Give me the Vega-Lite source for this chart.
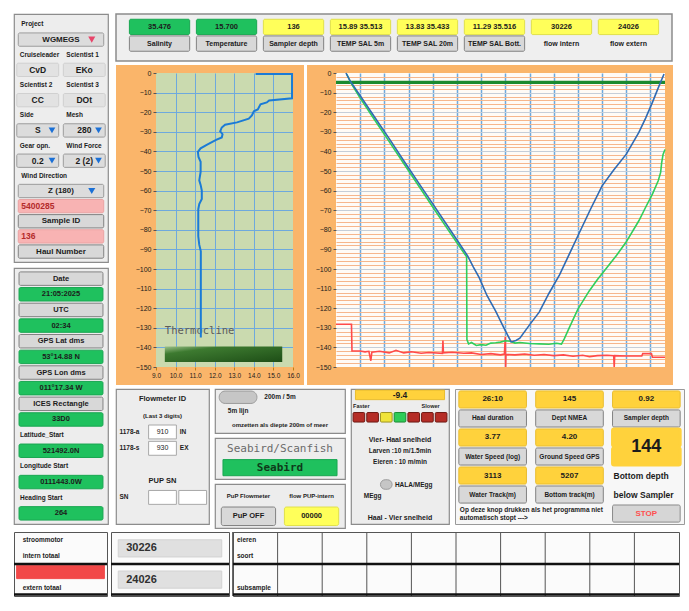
{
"$schema": "https://vega.github.io/schema/vega-lite/v6.json",
"background": "#ffffff",
"padding": {"left": 12, "top": 13, "right": 2, "bottom": 2},
"config": {"view": {"stroke": null}, "font": "Liberation Sans", "axis": {"labelFont": "Liberation Sans", "labelFontSize": 7.5, "labelColor": "#1a1a1a"}},
"datasets": {
 "left1": [
  {"r":"r01","c":"all","k":"lab","t":"Project"},
  {"r":"r02","c":"all","k":"dropr","t":"WGMEGS"},
  {"r":"r03","c":"L","k":"lab","t":"Cruiseleader"},{"r":"r03","c":"R","k":"lab","t":"Scientist 1"},
  {"r":"r04","c":"L","k":"box","t":"CvD"},{"r":"r04","c":"R","k":"box","t":"EKo"},
  {"r":"r05","c":"L","k":"lab","t":"Scientist 2"},{"r":"r05","c":"R","k":"lab","t":"Scientist 3"},
  {"r":"r06","c":"L","k":"box","t":"CC"},{"r":"r06","c":"R","k":"box","t":"DOt"},
  {"r":"r07","c":"L","k":"lab","t":"Side"},{"r":"r07","c":"R","k":"lab","t":"Mesh"},
  {"r":"r08","c":"L","k":"drop","t":"S"},{"r":"r08","c":"R","k":"drop","t":"280"},
  {"r":"r09","c":"L","k":"lab","t":"Gear opn."},{"r":"r09","c":"R","k":"lab","t":"Wind Force"},
  {"r":"r10","c":"L","k":"drop","t":"0.2"},{"r":"r10","c":"R","k":"drop","t":"2 (2)"},
  {"r":"r11","c":"all","k":"lab","t":"Wind Direction"},
  {"r":"r12","c":"all","k":"drop","t":"Z (180)"},
  {"r":"r13","c":"all","k":"pink","t":"5400285"},
  {"r":"r14","c":"all","k":"btn","t":"Sample ID"},
  {"r":"r15","c":"all","k":"pink","t":"136"},
  {"r":"r16","c":"all","k":"btn","t":"Haul Number"}
 ],
 "left2": [
  {"r":"s01","c":"all","k":"btn","t":"Date"},
  {"r":"s02","c":"all","k":"grn","t":"21:05:2025"},
  {"r":"s03","c":"all","k":"btn","t":"UTC"},
  {"r":"s04","c":"all","k":"grn","t":"02:34"},
  {"r":"s05","c":"all","k":"btn","t":"GPS Lat dms"},
  {"r":"s06","c":"all","k":"grn","t":"53°14.88 N"},
  {"r":"s07","c":"all","k":"btn","t":"GPS Lon dms"},
  {"r":"s08","c":"all","k":"grn","t":"011°17.34 W"},
  {"r":"s09","c":"all","k":"btn","t":"ICES Rectangle"},
  {"r":"s10","c":"all","k":"grn","t":"33D0"},
  {"r":"s11","c":"all","k":"lab","t":"Latitude_Start"},
  {"r":"s12","c":"all","k":"grn","t":"521492.0N"},
  {"r":"s13","c":"all","k":"lab","t":"Longitude Start"},
  {"r":"s14","c":"all","k":"grn","t":"0111443.0W"},
  {"r":"s15","c":"all","k":"lab","t":"Heading Start"},
  {"r":"s16","c":"all","k":"grn","t":"264"}
 ],
 "top": [
  {"r":"v","c":"Salinity","k":"grn","t":"35.476"},{"r":"l","c":"Salinity","k":"btn","t":"Salinity"},
  {"r":"v","c":"Temperature","k":"grn","t":"15.700"},{"r":"l","c":"Temperature","k":"btn","t":"Temperature"},
  {"r":"v","c":"Sampler depth","k":"yel","t":"136"},{"r":"l","c":"Sampler depth","k":"btn","t":"Sampler depth"},
  {"r":"v","c":"TEMP SAL 5m","k":"yel","t":"15.89 35.513"},{"r":"l","c":"TEMP SAL 5m","k":"btn","t":"TEMP SAL 5m"},
  {"r":"v","c":"TEMP SAL 20m","k":"yel","t":"13.83 35.433"},{"r":"l","c":"TEMP SAL 20m","k":"btn","t":"TEMP SAL 20m"},
  {"r":"v","c":"TEMP SAL Bott.","k":"yel","t":"11.29 35.516"},{"r":"l","c":"TEMP SAL Bott.","k":"btn","t":"TEMP SAL Bott."},
  {"r":"v","c":"flow intern","k":"yel","t":"30226"},{"r":"l","c":"flow intern","k":"tc","t":"flow intern"},
  {"r":"v","c":"flow extern","k":"yel","t":"24026"},{"r":"l","c":"flow extern","k":"tc","t":"flow extern"}
 ],
 "flow": [
  {"r":"f1","c":"all","k":"tc","t":"Flowmeter ID"},
  {"r":"f2","c":"all","k":"sm","t":"(Last 3 digits)"},
  {"r":"f3","c":"a","k":"lab","t":"1178-a"},{"r":"f3","c":"b","k":"wht","t":"910"},{"r":"f3","c":"c","k":"lab","t":"IN"},
  {"r":"f4","c":"a","k":"lab","t":"1178-s"},{"r":"f4","c":"b","k":"wht","t":"930"},{"r":"f4","c":"c","k":"lab","t":"EX"},
  {"r":"f6","c":"all","k":"tc","t":"PUP SN"},
  {"r":"f7","c":"a","k":"lab","t":"SN"},{"r":"f7","c":"b","k":"wht","t":""},{"r":"f7","c":"c","k":"wht","t":""}
 ],
 "m1": [
  {"r":"m1","c":"a","k":"tog","t":""},{"r":"m1","c":"b","k":"sm","t":"200m / 5m"},
  {"r":"m2","c":"a","k":"sm","t":"5m lijn"},
  {"r":"m3","c":"all","k":"sm","t":"omzetten als diepte 200m of meer"}
 ],
 "m2": [
  {"r":"n1","c":"all","k":"mono","t":"Seabird/Scanfish"},
  {"r":"n2","c":"all","k":"grnm","t":"Seabird"}
 ],
 "m3": [
  {"r":"p1","c":"L","k":"sm","t":"PuP Flowmeter"},{"r":"p1","c":"R","k":"sm","t":"flow PUP-intern"},
  {"r":"p2","c":"L","k":"btn","t":"PuP OFF"},{"r":"p2","c":"R","k":"yel","t":"00000"}
 ],
 "speed": [
  {"r":"q01","c":"all","k":"amb","t":"-9.4"},
  {"r":"q02","c":"a","k":"lab","t":"Faster"},{"r":"q02","c":"f","k":"lab","t":"Slower"},
  {"r":"q03","c":"a","k":"ledr","t":""},{"r":"q03","c":"b","k":"ledr","t":""},{"r":"q03","c":"c","k":"ledy","t":""},{"r":"q03","c":"d","k":"ledg","t":""},{"r":"q03","c":"e","k":"ledr","t":""},{"r":"q03","c":"f","k":"ledr","t":""},{"r":"q03","c":"g","k":"ledr","t":""},
  {"r":"q05","c":"all","k":"tc","t":"Vier- Haal snelheid"},
  {"r":"q06","c":"all","k":"sm","t":"Larven :10 m/1.5min"},
  {"r":"q07","c":"all","k":"sm","t":"Eieren : 10 m/min"},
  {"r":"q09","c":"c","k":"tog","t":""},{"r":"q09","c":"e","k":"sm","t":"HALA/MEgg"},
  {"r":"q10","c":"b","k":"sm","t":"MEgg"},
  {"r":"q12","c":"all","k":"tc","t":"Haal - Vier snelheid"}
 ],
 "read": [
  {"r":"v1","c":"a","k":"amb","t":"26:10"},{"r":"v1","c":"b","k":"amb","t":"145"},{"r":"v1","c":"c","k":"amb","t":"0.92"},
  {"r":"v2","c":"a","k":"btns","t":"Haal duration"},{"r":"v2","c":"b","k":"btns","t":"Dept NMEA"},{"r":"v2","c":"c","k":"btns","t":"Sampler depth"},
  {"r":"v3","c":"a","k":"amb","t":"3.77"},{"r":"v3","c":"b","k":"amb","t":"4.20"},{"r":"v3","c":"c","k":"big","t":"144"},
  {"r":"v4","c":"a","k":"btns","t":"Water Speed (log)"},{"r":"v4","c":"b","k":"btns","t":"Ground Speed GPS"},{"r":"v4","c":"c","k":"big","t":""},
  {"r":"v5","c":"a","k":"amb","t":"3113"},{"r":"v5","c":"b","k":"amb","t":"5207"},{"r":"v5","c":"c","k":"labb","t":"Bottom depth"},
  {"r":"v6","c":"a","k":"btns","t":"Water Track(m)"},{"r":"v6","c":"b","k":"btns","t":"Bottom track(m)"},{"r":"v6","c":"c","k":"labb","t":"below Sampler"},
  {"r":"v7","c":"a","k":"lab","t":"Op deze knop drukken als het programma niet\nautomatisch stopt --->"},{"r":"v7","c":"c","k":"stop","t":"STOP"}
 ],
 "tl": [
  {"r":"t1","c":"all","k":"lab","t":"stroommotor"},
  {"r":"t2","c":"all","k":"lab","t":"intern totaal"},
  {"r":"t3","c":"all","k":"red","t":""},
  {"r":"t4","c":"all","k":"lab","t":"extern totaal"}
 ],
 "tv": [
  {"r":"u","c":"all","k":"gry","t":"30226"},
  {"r":"l","c":"all","k":"gry","t":"24026"}
 ],
 "tg": [
  {"r":"t1","c":"g00","k":"lab","t":"eieren"},
  {"r":"t2","c":"g00","k":"lab","t":"soort"},
  {"r":"t4","c":"g00","k":"lab","t":"subsample"},
  {"r":"t1","c":"g01","k":"cell","t":""},{"r":"t1","c":"g02","k":"cell","t":""},{"r":"t1","c":"g03","k":"cell","t":""},
  {"r":"t1","c":"g04","k":"cell","t":""},{"r":"t1","c":"g05","k":"cell","t":""},{"r":"t1","c":"g06","k":"cell","t":""},
  {"r":"t1","c":"g07","k":"cell","t":""},{"r":"t1","c":"g08","k":"cell","t":""},{"r":"t1","c":"g09","k":"cell","t":""}
 ],
 "tblrows": [{"r":"u"},{"r":"l"}],
 "thermo": [
  {"T":14.09,"d":-0.5},{"T":15.95,"d":-0.5},{"T":15.95,"d":-12.9},{"T":14.78,"d":-14.0},{"T":14.66,"d":-15.0},
  {"T":14.34,"d":-16.0},{"T":14.2,"d":-18.6},{"T":14.0,"d":-19.5},{"T":13.9,"d":-21.7},{"T":13.74,"d":-23.3},
  {"T":13.14,"d":-25.2},{"T":12.53,"d":-26.4},{"T":12.36,"d":-27.8},{"T":12.28,"d":-29.8},{"T":12.4,"d":-31.2},
  {"T":12.36,"d":-32.9},{"T":12.07,"d":-34.1},{"T":11.59,"d":-36.7},{"T":11.28,"d":-38.4},{"T":11.14,"d":-40.2},
  {"T":11.17,"d":-42.8},{"T":11.28,"d":-45.3},{"T":11.28,"d":-50.5},{"T":11.21,"d":-54.8},{"T":11.28,"d":-57.1},
  {"T":11.34,"d":-60.0},{"T":11.34,"d":-64.3},{"T":11.21,"d":-66.9},{"T":11.16,"d":-69.5},{"T":11.16,"d":-83.3},
  {"T":11.21,"d":-87.6},{"T":11.29,"d":-91.0},{"T":11.29,"d":-135.0}
 ],
 "sampler": [
  {"s":"bottom","t":0,"d":-128.2},{"s":"bottom","t":16,"d":-128.2},{"s":"bottom","t":16.5,"d":-141.8},{"s":"bottom","t":25,"d":-141.8},
  {"s":"bottom","t":30,"d":-142.3},{"s":"bottom","t":34,"d":-142.0},{"s":"bottom","t":36,"d":-146.8},{"s":"bottom","t":37,"d":-142.5},
  {"s":"bottom","t":45,"d":-142.0},{"s":"bottom","t":55,"d":-142.8},{"s":"bottom","t":62,"d":-141.5},{"s":"bottom","t":70,"d":-142.8},
  {"s":"bottom","t":78,"d":-142.2},{"s":"bottom","t":88,"d":-143.0},{"s":"bottom","t":96,"d":-142.6},{"s":"bottom","t":110,"d":-143.0},
  {"s":"bottom","t":110.5,"d":-136.5},{"s":"bottom","t":111,"d":-142.8},{"s":"bottom","t":120,"d":-142.5},{"s":"bottom","t":132,"d":-143.0},
  {"s":"bottom","t":140,"d":-142.8},{"s":"bottom","t":150,"d":-143.6},{"s":"bottom","t":160,"d":-143.2},{"s":"bottom","t":170,"d":-143.8},
  {"s":"bottom","t":174,"d":-143.4},{"s":"bottom","t":175,"d":-134.7},{"s":"bottom","t":175.3,"d":-150},{"s":"bottom","t":175.6,"d":-143.6},
  {"s":"bottom","t":185,"d":-143.8},{"s":"bottom","t":195,"d":-143.4},{"s":"bottom","t":205,"d":-144.0},{"s":"bottom","t":215,"d":-143.6},
  {"s":"bottom","t":225,"d":-144.2},{"s":"bottom","t":235,"d":-143.8},{"s":"bottom","t":245,"d":-144.5},{"s":"bottom","t":255,"d":-144.0},
  {"s":"bottom","t":262,"d":-144.8},{"s":"bottom","t":270,"d":-144.2},{"s":"bottom","t":280,"d":-144.0},{"s":"bottom","t":287,"d":-144.2},
  {"s":"bottom","t":287.5,"d":-150},{"s":"bottom","t":288,"d":-144.2},{"s":"bottom","t":300,"d":-144.4},{"s":"bottom","t":316,"d":-144.4},
  {"s":"bottom","t":317,"d":-143.2},{"s":"bottom","t":326,"d":-143.2},{"s":"bottom","t":327,"d":-145.0},{"s":"bottom","t":340,"d":-145.0},
  {"s":"net","t":11,"d":-0.5},{"s":"net","t":16,"d":-5.5},{"s":"net","t":25,"d":-12.8},{"s":"net","t":40,"d":-24},
  {"s":"net","t":55,"d":-35},{"s":"net","t":70,"d":-46.2},{"s":"net","t":85,"d":-57.3},{"s":"net","t":100,"d":-68.4},
  {"s":"net","t":115,"d":-79.4},{"s":"net","t":128,"d":-88.8},{"s":"net","t":135,"d":-93.8},{"s":"net","t":135.3,"d":-136},
  {"s":"net","t":137,"d":-138.2},{"s":"net","t":140,"d":-137.5},{"s":"net","t":145,"d":-139.0},{"s":"net","t":150,"d":-138.6},
  {"s":"net","t":155,"d":-138.9},{"s":"net","t":160,"d":-137.8},{"s":"net","t":165,"d":-137.6},{"s":"net","t":170,"d":-137.3},
  {"s":"net","t":175,"d":-136.6},{"s":"net","t":180,"d":-136.9},{"s":"net","t":185,"d":-137.8},{"s":"net","t":190,"d":-137.5},
  {"s":"net","t":200,"d":-138.0},{"s":"net","t":210,"d":-138.2},{"s":"net","t":220,"d":-138.4},{"s":"net","t":228,"d":-137.9},
  {"s":"net","t":233,"d":-138.3},{"s":"net","t":236,"d":-135.5},{"s":"net","t":241,"d":-130},{"s":"net","t":250,"d":-120.5},
  {"s":"net","t":261.7,"d":-111.2},{"s":"net","t":270,"d":-105.5},{"s":"net","t":278.8,"d":-100},{"s":"net","t":290,"d":-93},
  {"s":"net","t":299.5,"d":-86.5},{"s":"net","t":313,"d":-75.4},{"s":"net","t":320,"d":-68.5},{"s":"net","t":327,"d":-61.8},
  {"s":"net","t":333,"d":-55},{"s":"net","t":335.5,"d":-50.7},{"s":"net","t":336.5,"d":-46},{"s":"net","t":338,"d":-41.5},
  {"s":"net","t":340,"d":-39},
  {"s":"sampler","t":10.3,"d":0},{"s":"sampler","t":14.4,"d":-3.9},{"s":"sampler","t":25,"d":-11.6},{"s":"sampler","t":40,"d":-22.6},
  {"s":"sampler","t":55,"d":-33.5},{"s":"sampler","t":70,"d":-44.8},{"s":"sampler","t":85,"d":-55.8},{"s":"sampler","t":100,"d":-66.8},
  {"s":"sampler","t":115,"d":-77.8},{"s":"sampler","t":128,"d":-87.4},{"s":"sampler","t":136,"d":-93.3},{"s":"sampler","t":142,"d":-99.0},
  {"s":"sampler","t":148,"d":-104.4},{"s":"sampler","t":156,"d":-113.5},{"s":"sampler","t":165,"d":-121.5},{"s":"sampler","t":173,"d":-129.5},
  {"s":"sampler","t":181,"d":-137.2},{"s":"sampler","t":186,"d":-136.5},{"s":"sampler","t":190,"d":-135.3},{"s":"sampler","t":200,"d":-128.5},
  {"s":"sampler","t":210,"d":-122},{"s":"sampler","t":220,"d":-112.5},{"s":"sampler","t":231,"d":-103},{"s":"sampler","t":241,"d":-92.5},
  {"s":"sampler","t":251,"d":-82},{"s":"sampler","t":263,"d":-69.5},{"s":"sampler","t":275,"d":-57.6},{"s":"sampler","t":287,"d":-49.5},
  {"s":"sampler","t":300,"d":-41.4},{"s":"sampler","t":313,"d":-30.3},{"s":"sampler","t":320,"d":-23},{"s":"sampler","t":327,"d":-15},
  {"s":"sampler","t":333,"d":-7.6},{"s":"sampler","t":339,"d":-0.5},
  {"s":"target","t":0,"d":-4.8},{"s":"target","t":340,"d":-4.8}
 ]
},
"vconcat": [
 {"hconcat": [
  {"vconcat": [
   {"width": 94, "height": 248, "view": {"fill": "#ededed", "stroke": "#8c8c8c", "strokeWidth": 1.2},
    "data": {"name": "left1"},
    "resolve": {"scale": {"x": "independent"}},
    "layer": [
     {"transform": [{"filter": "datum.c !== 'all'"}],
      "encoding": {
       "x": {"field": "c", "type": "nominal", "axis": null, "scale": {"domain": ["L","R"], "paddingInner": 0.1, "paddingOuter": 0.06}},
       "y": {"field": "r", "type": "nominal", "axis": null, "scale": {"domain": ["r01","r02","r03","r04","r05","r06","r07","r08","r09","r10","r11","r12","r13","r14","r15","r16"], "paddingInner": 0.12, "paddingOuter": 0.25}}},
      "layer": [
       {"transform":[{"filter":"indexof(['lab','labb','tc','sm','mono','cell'], datum.k) < 0"}],"mark":{"type":"rect","cornerRadius":1.5,"strokeWidth":{"expr":"datum.k === 'big' ? 3 : 1"}},"encoding":{"fill":{"field":"k","type":"nominal","legend":null,"scale":{"domain":["box","drop","dropr","pink","btn","btns","grn","grnm","yel","amb","big","wht","gry","stop","red","ledr","ledy","ledg","tog"],"range":["#e2e2e2","#dcdcdc","#dcdcdc","#f8b3b3","#d8d8d8","#d8d8d8","#1fc15e","#1fc15e","#ffff5a","#ffd23c","#ffd23c","#ffffff","#e0e0e0","#d6d6d6","#f24848","#b52d26","#f0e43a","#2fcc58","#c6c6c6"]}},"stroke":{"field":"k","type":"nominal","legend":null,"scale":{"domain":["box","drop","dropr","pink","btn","btns","grn","grnm","yel","amb","big","wht","gry","stop","red","ledr","ledy","ledg","tog"],"range":["#d0d0d0","#9c9c9c","#9c9c9c","#eba2a2","#828282","#828282","#19a651","#19a651","#e0e04a","#e8bd32","#ffd23c","#a8a8a8","#d2d2d2","#8a8a8a","#f24848","#6e1a14","#9e9422","#1c8a34","#9c9c9c"]}}}},
       {"transform":[{"filter":"indexof(['lab','labb','pink','gry','cell'], datum.k) < 0"}],"mark":{"type":"text","baseline":"middle","fontSize":{"expr":"(datum.k === 'box' || datum.k === 'drop' || datum.k === 'dropr') ? 8.5 : 7.5"},"fontWeight":"bold","fill":"#1c1c1c"},"encoding":{"text":{"field":"t"}}},
       {"transform":[{"filter":"indexof(['lab','labb','pink','gry'], datum.k) >= 0"}],"mark":{"type":"text","align":"left","dx":3,"baseline":"middle","fontSize":{"expr":"(datum.k === 'lab') ? 6.5 : 8.5"},"fontWeight":"bold","fill":{"expr":"datum.k === 'pink' ? '#b42a2a' : '#1c1c1c'"}},"encoding":{"x":{"field":"c","type":"nominal","bandPosition":0,"axis":null},"text":{"field":"t"}}},
       {"transform":[{"filter":"datum.k === 'drop' || datum.k === 'dropr'"}],"mark":{"type":"point","shape":"triangle-down","filled":true,"size":45,"opacity":1,"fill":{"expr":"datum.k === 'dropr' ? '#e8456a' : '#1b70d6'"}},"encoding":{"x":{"field":"c","type":"nominal","bandPosition":0.84,"axis":null}}}
      ]},
     {"transform": [{"filter": "datum.c === 'all'"}],
      "encoding": {
       "x": {"field": "c", "type": "nominal", "axis": null, "scale": {"domain": ["all"], "paddingInner": 0, "paddingOuter": 0.05}},
       "y": {"field": "r", "type": "nominal", "axis": null, "scale": {"domain": ["r01","r02","r03","r04","r05","r06","r07","r08","r09","r10","r11","r12","r13","r14","r15","r16"], "paddingInner": 0.12, "paddingOuter": 0.25}}},
      "layer": [
       {"transform":[{"filter":"indexof(['lab','labb','tc','sm','mono','cell'], datum.k) < 0"}],"mark":{"type":"rect","cornerRadius":1.5,"strokeWidth":1},"encoding":{"fill":{"field":"k","type":"nominal","legend":null},"stroke":{"field":"k","type":"nominal","legend":null}}},
       {"transform":[{"filter":"indexof(['lab','labb','pink','gry','cell'], datum.k) < 0"}],"mark":{"type":"text","baseline":"middle","fontSize":8,"fontWeight":"bold","fill":"#1c1c1c"},"encoding":{"text":{"field":"t"}}},
       {"transform":[{"filter":"indexof(['lab','labb','pink','gry'], datum.k) >= 0"}],"mark":{"type":"text","align":"left","dx":3,"baseline":"middle","fontSize":{"expr":"datum.k === 'lab' ? 6.5 : 8.5"},"fontWeight":"bold","fill":{"expr":"datum.k === 'pink' ? '#b42a2a' : '#1c1c1c'"}},"encoding":{"x":{"field":"c","type":"nominal","bandPosition":0,"axis":null},"text":{"field":"t"}}},
       {"transform":[{"filter":"datum.k === 'drop' || datum.k === 'dropr'"}],"mark":{"type":"point","shape":"triangle-down","filled":true,"size":50,"opacity":1,"fill":{"expr":"datum.k === 'dropr' ? '#e8456a' : '#1b70d6'"}},"encoding":{"x":{"field":"c","type":"nominal","bandPosition":0.86,"axis":null}}}
      ]}
    ]},
   {"width": 94, "height": 256, "view": {"fill": "#ededed", "stroke": "#8c8c8c", "strokeWidth": 1.2},
    "data": {"name": "left2"},
    "encoding": {
     "x": {"field": "c", "type": "nominal", "axis": null, "scale": {"domain": ["all"], "paddingInner": 0, "paddingOuter": 0.06}},
     "y": {"field": "r", "type": "nominal", "axis": null, "scale": {"domain": ["s01","s02","s03","s04","s05","s06","s07","s08","s09","s10","s11","s12","s13","s14","s15","s16"], "paddingInner": 0.14, "paddingOuter": 0.25}}},
    "layer": [
     {"transform":[{"filter":"indexof(['lab','labb','tc','sm','mono','cell'], datum.k) < 0"}],"mark":{"type":"rect","cornerRadius":1.5,"strokeWidth":1},"encoding":{"fill":{"field":"k","type":"nominal","legend":null},"stroke":{"field":"k","type":"nominal","legend":null}}},
     {"transform":[{"filter":"datum.k !== 'lab'"}],"mark":{"type":"text","baseline":"middle","fontSize":7.5,"fontWeight":"bold","fill":"#1c1c1c"},"encoding":{"text":{"field":"t"}}},
     {"transform":[{"filter":"datum.k === 'lab'"}],"mark":{"type":"text","align":"left","dx":1,"baseline":"middle","fontSize":6.5,"fontWeight":"bold","fill":"#1c1c1c"},"encoding":{"x":{"field":"c","type":"nominal","bandPosition":0,"axis":null},"text":{"field":"t"}}}
    ]}
  ], "spacing": 4},
  {"vconcat": [
   {"width": 556, "height": 47, "view": {"fill": "#efefef", "stroke": "#8c8c8c", "strokeWidth": 1.5},
    "data": {"name": "top"},
    "encoding": {
     "x": {"field": "c", "type": "nominal", "axis": null, "scale": {"domain": ["Salinity","Temperature","Sampler depth","TEMP SAL 5m","TEMP SAL 20m","TEMP SAL Bott.","flow intern","flow extern"], "paddingInner": 0.1, "paddingOuter": 0.2}},
     "y": {"field": "r", "type": "nominal", "axis": null, "scale": {"domain": ["v","l"], "paddingInner": 0.08, "paddingOuter": 0.45, "align": 0.35}}},
    "layer": [
     {"transform":[{"filter":"datum.k !== 'tc'"}],"mark":{"type":"rect","cornerRadius":1.5,"strokeWidth":1},"encoding":{"fill":{"field":"k","type":"nominal","legend":null},"stroke":{"field":"k","type":"nominal","legend":null}}},
     {"mark":{"type":"text","baseline":"middle","fontSize":{"expr":"datum.r === 'v' ? 7.5 : 7"},"fontWeight":"bold","fill":"#1c1c1c"},"encoding":{"text":{"field":"t"}}}
    ]},
   {"hconcat": [
    {"width": 177, "height": 294,
     "view": {"fill": "#cadaaf", "stroke": null},
     "resolve": {"axis": {"x": "independent", "y": "independent"}},
     "layer": [
      {"data": {"values": [{}]}, "mark": {"type": "rect", "clip": false, "color": "#fab56a"},
       "encoding": {
        "x": {"datum": 6.956, "type": "quantitative", "scale": {"domain": [6.956,16], "nice": false, "zero": false}, "axis": {"orient": "bottom", "grid": true, "gridColor": "#6ea9dd", "gridWidth": 1, "values": [10,11,12,13,14,15], "labels": false, "ticks": false, "domain": false, "title": null, "minExtent": 0, "maxExtent": 0}},
        "x2": {"datum": 9},
        "y": {"datum": 4.08, "type": "quantitative", "scale": {"domain": [-150,0], "nice": false, "zero": false}, "axis": {"orient": "left", "grid": true, "gridColor": "#6ea9dd", "gridWidth": 1, "values": [-140,-130,-120,-110,-100,-90,-80,-70,-60,-50,-40,-30,-20,-10], "labels": false, "ticks": false, "domain": false, "title": null, "minExtent": 0, "maxExtent": 0}},
        "y2": {"datum": -159.18}}},
      {"data": {"values": [{}]}, "mark": {"type": "rect", "clip": false, "color": "#fab56a"},
       "encoding": {
        "x": {"datum": 16, "type": "quantitative", "scale": {"domain": [6.956,16], "nice": false, "zero": false}, "axis": null},
        "x2": {"datum": 16.562},
        "y": {"datum": 4.08, "type": "quantitative", "scale": {"domain": [-150,0], "nice": false, "zero": false}, "axis": null},
        "y2": {"datum": -159.18}}},
      {"data": {"values": [{}]}, "mark": {"type": "rect", "clip": false, "color": "#fab56a"},
       "encoding": {
        "x": {"datum": 9, "type": "quantitative", "scale": {"domain": [6.956,16], "nice": false, "zero": false}, "axis": null},
        "x2": {"datum": 16},
        "y": {"datum": 4.08, "type": "quantitative", "scale": {"domain": [-150,0], "nice": false, "zero": false}, "axis": null},
        "y2": {"datum": 0}}},
      {"data": {"values": [{}]}, "mark": {"type": "rect", "clip": false, "color": "#fab56a"},
       "encoding": {
        "x": {"datum": 9, "type": "quantitative", "scale": {"domain": [6.956,16], "nice": false, "zero": false}, "axis": null},
        "x2": {"datum": 16},
        "y": {"datum": -150, "type": "quantitative", "scale": {"domain": [-150,0], "nice": false, "zero": false}, "axis": null},
        "y2": {"datum": -159.18}}},
      {"data": {"values": [{"label": "Thermocline"}]}, "mark": {"type": "text", "align": "left", "baseline": "middle", "font": "DejaVu Sans Mono", "fontSize": 10.5, "color": "#5c5c5c"},
       "encoding": {
        "x": {"datum": 9.45, "type": "quantitative", "scale": {"domain": [6.956,16], "nice": false, "zero": false}, "axis": null},
        "y": {"datum": -131.5, "type": "quantitative", "scale": {"domain": [-150,0], "nice": false, "zero": false}, "axis": null},
        "text": {"field": "label"}}},
      {"data": {"values": [{}]}, "mark": {"type": "rect", "fill": {"gradient": "linear", "x1": 0, "y1": 0, "x2": 1, "y2": 1, "stops": [{"offset": 0, "color": "#9cc18a"}, {"offset": 0.25, "color": "#3d7a30"}, {"offset": 1, "color": "#1d4d16"}]}},
       "encoding": {
        "x": {"datum": 9.45, "type": "quantitative", "scale": {"domain": [6.956,16], "nice": false, "zero": false}, "axis": null},
        "x2": {"datum": 15.45},
        "y": {"datum": -139.5, "type": "quantitative", "scale": {"domain": [-150,0], "nice": false, "zero": false}, "axis": null},
        "y2": {"datum": -147.5}}},
      {"data": {"name": "thermo"}, "mark": {"type": "line", "color": "#1b7bd6", "strokeWidth": 2},
       "encoding": {
        "x": {"field": "T", "type": "quantitative", "scale": {"domain": [6.956,16], "nice": false, "zero": false}, "axis": {"orient": "bottom", "grid": false, "values": [9,10,11,12,13,14,15,16], "format": ".1f", "labelOverlap": false, "labelFlush": false, "labelFontSize": 6.5, "domain": false, "tickColor": "#c08010", "tickSize": 3, "labelPadding": 2, "title": null, "zindex": 1}},
        "y": {"field": "d", "type": "quantitative", "scale": {"domain": [-150,0], "nice": false, "zero": false}, "axis": {"orient": "left", "offset": -40, "grid": false, "values": [0,-10,-20,-30,-40,-50,-60,-70,-80,-90,-100,-110,-120,-130,-140,-150], "format": "d", "labelOverlap": false, "labelFlush": false, "domain": false, "tickColor": "#555555", "tickSize": 3, "labelFontSize": 7, "title": null, "zindex": 1}},
        "order": {"value": null}}}
     ]},
    {"width": 329, "height": 294,
     "view": {"fill": "#fffbf6", "stroke": null},
     "resolve": {"axis": {"x": "independent", "y": "independent"}},
     "layer": [
      {"data": {"values": [{}]}, "mark": {"type": "rect", "clip": false, "color": "#fab56a"},
       "encoding": {
        "x": {"datum": -29.97, "type": "quantitative", "scale": {"domain": [0,340], "nice": false, "zero": false}, "axis": {"orient": "bottom", "grid": true, "gridColor": "#6ea9dd", "gridWidth": 1.5, "values": [25,50,75,100,125,150,175,200,225,250,275,300,325], "labels": false, "ticks": false, "domain": false, "title": null, "minExtent": 0, "maxExtent": 0}},
        "x2": {"datum": 0},
        "y": {"datum": 4.08, "type": "quantitative", "scale": {"domain": [-150,0], "nice": false, "zero": false}, "axis": {"orient": "left", "grid": true, "gridColor": {"condition": {"test": "datum.value % 10 === 0", "value": "#c6ced8"}, "value": "#f6b68c"}, "gridWidth": 1.2, "values": [-148,-146,-144,-142,-140,-138,-136,-134,-132,-130,-128,-126,-124,-122,-120,-118,-116,-114,-112,-110,-108,-106,-104,-102,-100,-98,-96,-94,-92,-90,-88,-86,-84,-82,-80,-78,-76,-74,-72,-70,-68,-66,-64,-62,-60,-58,-56,-54,-52,-50,-48,-46,-44,-42,-40,-38,-36,-34,-32,-30,-28,-26,-24,-22,-20,-18,-16,-14,-12,-10,-8,-6,-4,-2], "labels": false, "ticks": false, "domain": false, "title": null, "minExtent": 0, "maxExtent": 0}},
        "y2": {"datum": -159.18}}},
      {"data": {"values": [{}]}, "mark": {"type": "rect", "clip": false, "color": "#fab56a"},
       "encoding": {
        "x": {"datum": 340, "type": "quantitative", "scale": {"domain": [0,340], "nice": false, "zero": false}, "axis": null},
        "x2": {"datum": 348.27},
        "y": {"datum": 4.08, "type": "quantitative", "scale": {"domain": [-150,0], "nice": false, "zero": false}, "axis": null},
        "y2": {"datum": -159.18}}},
      {"data": {"values": [{}]}, "mark": {"type": "rect", "clip": false, "color": "#fab56a"},
       "encoding": {
        "x": {"datum": 0, "type": "quantitative", "scale": {"domain": [0,340], "nice": false, "zero": false}, "axis": null},
        "x2": {"datum": 340},
        "y": {"datum": 4.08, "type": "quantitative", "scale": {"domain": [-150,0], "nice": false, "zero": false}, "axis": null},
        "y2": {"datum": 0}}},
      {"data": {"values": [{}]}, "mark": {"type": "rect", "clip": false, "color": "#fab56a"},
       "encoding": {
        "x": {"datum": 0, "type": "quantitative", "scale": {"domain": [0,340], "nice": false, "zero": false}, "axis": null},
        "x2": {"datum": 340},
        "y": {"datum": -150, "type": "quantitative", "scale": {"domain": [-150,0], "nice": false, "zero": false}, "axis": null},
        "y2": {"datum": -159.18}}},
      {"data": {"name": "sampler"}, "transform": [{"filter": "datum.s === 'target'"}], "mark": {"type": "line", "color": "#1c8a2e", "strokeWidth": 3.2},
       "encoding": {
        "x": {"field": "t", "type": "quantitative", "scale": {"domain": [0,340], "nice": false, "zero": false}, "axis": null},
        "y": {"field": "d", "type": "quantitative", "scale": {"domain": [-150,0], "nice": false, "zero": false}, "axis": null}}},
      {"data": {"name": "sampler"}, "transform": [{"filter": "datum.s !== 'target'"}], "mark": {"type": "line", "strokeWidth": 1.6},
       "encoding": {
        "x": {"field": "t", "type": "quantitative", "scale": {"domain": [0,340], "nice": false, "zero": false}, "axis": null},
        "y": {"field": "d", "type": "quantitative", "scale": {"domain": [-150,0], "nice": false, "zero": false}, "axis": {"orient": "left", "grid": false, "values": [0,-10,-20,-30,-40,-50,-60,-70,-80,-90,-100,-110,-120,-130,-140,-150], "format": "d", "labelOverlap": false, "labelFlush": false, "domain": false, "tickColor": "#555555", "tickSize": 3, "labelFontSize": 7, "title": null, "zindex": 1}},
        "color": {"field": "s", "type": "nominal", "legend": null, "scale": {"domain": ["bottom","net","sampler"], "range": ["#ff4a4a","#2fce5c","#2f6bb4"]}},
        "order": {"value": null}}}
     ]}
   ], "spacing": 2},
   {"hconcat": [
    {"width": 93, "height": 135, "view": {"fill": "#ededed", "stroke": "#8c8c8c", "strokeWidth": 1.2},
     "data": {"name": "flow"},
     "layer": [
      {"transform": [{"filter": "datum.c !== 'all'"}],
       "encoding": {
        "x": {"field": "c", "type": "nominal", "axis": null, "scale": {"domain": ["a","b","c"], "paddingInner": 0.08, "paddingOuter": 0.08}},
        "y": {"field": "r", "type": "nominal", "axis": null, "scale": {"domain": ["f1","f2","f3","f4","f5","f6","f7","f8"], "paddingInner": 0.15, "paddingOuter": 0.2}}},
       "layer": [
        {"transform":[{"filter":"datum.k === 'wht'"}],"mark":{"type":"rect","strokeWidth":1},"encoding":{"fill":{"field":"k","type":"nominal","legend":null},"stroke":{"field":"k","type":"nominal","legend":null}}},
        {"transform":[{"filter":"datum.k === 'wht'"}],"mark":{"type":"text","baseline":"middle","fontSize":7,"fill":"#1c1c1c"},"encoding":{"text":{"field":"t"}}},
        {"transform":[{"filter":"datum.k === 'lab'"}],"mark":{"type":"text","align":"left","dx":1,"baseline":"middle","fontSize":6.5,"fontWeight":"bold","fill":"#1c1c1c"},"encoding":{"x":{"field":"c","type":"nominal","bandPosition":0,"axis":null},"text":{"field":"t"}}}
       ]},
      {"transform": [{"filter": "datum.c === 'all'"}],
       "mark": {"type": "text", "baseline": "middle", "fontWeight": "bold", "fill": "#1c1c1c", "fontSize": {"expr": "datum.k === 'sm' ? 6 : 7.5"}},
       "encoding": {
        "y": {"field": "r", "type": "nominal", "axis": null, "scale": {"domain": ["f1","f2","f3","f4","f5","f6","f7","f8"], "paddingInner": 0.15, "paddingOuter": 0.2}},
        "text": {"field": "t"}}}
     ]},
    {"vconcat": [
     {"width": 130, "height": 44, "view": {"fill": "#ededed", "stroke": "#8c8c8c", "strokeWidth": 1.2},
      "data": {"name": "m1"},
      "layer": [
       {"transform": [{"filter": "datum.c !== 'all'"}],
        "encoding": {
         "x": {"field": "c", "type": "nominal", "axis": null, "scale": {"domain": ["a","b","c"], "paddingInner": 0.1, "paddingOuter": 0.1}},
         "y": {"field": "r", "type": "nominal", "axis": null, "scale": {"domain": ["m1","m2","m3"], "paddingInner": 0.1, "paddingOuter": 0.15}}},
        "layer": [
         {"transform":[{"filter":"datum.k === 'tog'"}],"mark":{"type":"rect","cornerRadius":6,"strokeWidth":1},"encoding":{"fill":{"field":"k","type":"nominal","legend":null},"stroke":{"field":"k","type":"nominal","legend":null}}},
         {"transform":[{"filter":"datum.k !== 'tog'"}],"mark":{"type":"text","baseline":"middle","fontSize":6.5,"fontWeight":"bold","fill":"#1c1c1c"},"encoding":{"text":{"field":"t"}}}
        ]},
       {"transform": [{"filter": "datum.c === 'all'"}],
        "mark": {"type": "text", "baseline": "middle", "fontWeight": "bold", "fill": "#1c1c1c", "fontSize": 6},
        "encoding": {
         "y": {"field": "r", "type": "nominal", "axis": null, "scale": {"domain": ["m1","m2","m3"], "paddingInner": 0.1, "paddingOuter": 0.15}},
         "text": {"field": "t"}}}
      ]},
     {"width": 130, "height": 41, "view": {"fill": "#ededed", "stroke": "#8c8c8c", "strokeWidth": 1.2},
      "data": {"name": "m2"},
      "encoding": {
       "x": {"field": "c", "type": "nominal", "axis": null, "scale": {"domain": ["all"], "paddingInner": 0, "paddingOuter": 0.07}},
       "y": {"field": "r", "type": "nominal", "axis": null, "scale": {"domain": ["n1","n2"], "paddingInner": 0.12, "paddingOuter": 0.18}}},
      "layer": [
       {"transform":[{"filter":"datum.k === 'grnm'"}],"mark":{"type":"rect","strokeWidth":1},"encoding":{"fill":{"field":"k","type":"nominal","legend":null},"stroke":{"field":"k","type":"nominal","legend":null}}},
       {"mark":{"type":"text","baseline":"middle","font":"DejaVu Sans Mono","fontSize":11,"fontWeight":{"expr":"datum.k === 'grnm' ? 'bold' : 'normal'"},"fill":{"expr":"datum.k === 'grnm' ? '#0e3a1a' : '#6a6a6a'"}},"encoding":{"text":{"field":"t"}}}
      ]},
     {"width": 130, "height": 44, "view": {"fill": "#ededed", "stroke": "#8c8c8c", "strokeWidth": 1.2},
      "data": {"name": "m3"},
      "encoding": {
       "x": {"field": "c", "type": "nominal", "axis": null, "scale": {"domain": ["L","R"], "paddingInner": 0.14, "paddingOuter": 0.1}},
       "y": {"field": "r", "type": "nominal", "axis": null, "scale": {"domain": ["p1","p2"], "paddingInner": 0.1, "paddingOuter": 0.12}}},
      "layer": [
       {"transform":[{"filter":"datum.k !== 'sm'"}],"mark":{"type":"rect","cornerRadius":2,"strokeWidth":1},"encoding":{"fill":{"field":"k","type":"nominal","legend":null},"stroke":{"field":"k","type":"nominal","legend":null}}},
       {"mark":{"type":"text","baseline":"middle","fontSize":{"expr":"datum.k === 'sm' ? 6 : 7.5"},"fontWeight":"bold","fill":"#1c1c1c"},"encoding":{"text":{"field":"t"}}}
      ]}
    ], "spacing": 3},
    {"width": 98, "height": 135, "view": {"fill": "#ededed", "stroke": "#8c8c8c", "strokeWidth": 1.2},
     "data": {"name": "speed"},
     "resolve": {"scale": {"x": "independent"}},
     "layer": [
      {"transform": [{"filter": "datum.c !== 'all'"}],
       "encoding": {
        "x": {"field": "c", "type": "nominal", "axis": null, "scale": {"domain": ["a","b","c","d","e","f","g"], "paddingInner": 0.15, "paddingOuter": 0.15}},
        "y": {"field": "r", "type": "nominal", "axis": null, "scale": {"domain": ["q01","q02","q03","q04","q05","q06","q07","q08","q09","q10","q11","q12"], "paddingInner": 0.15, "paddingOuter": 0.1}}},
       "layer": [
        {"transform":[{"filter":"indexof(['ledr','ledy','ledg','tog'], datum.k) >= 0"}],"mark":{"type":"rect","cornerRadius":{"expr":"datum.k === 'tog' ? 5 : 1"},"strokeWidth":1},"encoding":{"fill":{"field":"k","type":"nominal","legend":null},"stroke":{"field":"k","type":"nominal","legend":null}}},
        {"transform":[{"filter":"datum.k === 'sm'"}],"mark":{"type":"text","baseline":"middle","fontSize":6.5,"fontWeight":"bold","fill":"#1c1c1c"},"encoding":{"text":{"field":"t"}}},
        {"transform":[{"filter":"datum.k === 'lab'"}],"mark":{"type":"text","align":"left","dx":0,"baseline":"middle","fontSize":5.5,"fontWeight":"bold","fill":"#1c1c1c"},"encoding":{"x":{"field":"c","type":"nominal","bandPosition":0,"axis":null},"text":{"field":"t"}}}
       ]},
      {"transform": [{"filter": "datum.c === 'all'"}],
       "encoding": {
        "x": {"field": "c", "type": "nominal", "axis": null, "scale": {"domain": ["all"], "paddingInner": 0, "paddingOuter": 0.05}},
        "y": {"field": "r", "type": "nominal", "axis": null, "scale": {"domain": ["q01","q02","q03","q04","q05","q06","q07","q08","q09","q10","q11","q12"], "paddingInner": 0.15, "paddingOuter": 0.1}}},
       "layer": [
        {"transform":[{"filter":"datum.k === 'amb'"}],"mark":{"type":"rect","strokeWidth":1},"encoding":{"fill":{"field":"k","type":"nominal","legend":null},"stroke":{"field":"k","type":"nominal","legend":null}}},
        {"mark":{"type":"text","baseline":"middle","fontSize":{"expr":"datum.k === 'amb' ? 8.5 : datum.k === 'sm' ? 6.5 : 7"},"fontWeight":"bold","fill":"#1c1c1c"},"encoding":{"text":{"field":"t"}}}
       ]}
     ]},
    {"width": 229, "height": 135, "view": {"fill": "#f7f7f7", "stroke": "#9a9a9a", "strokeWidth": 1},
     "data": {"name": "read"},
     "encoding": {
      "x": {"field": "c", "type": "nominal", "axis": null, "scale": {"domain": ["a","b","c"], "paddingInner": 0.12, "paddingOuter": 0.05}},
      "y": {"field": "r", "type": "nominal", "axis": null, "scale": {"domain": ["v1","v2","v3","v4","v5","v6","v7"], "paddingInner": 0.1, "paddingOuter": 0.1}}},
     "layer": [
      {"transform":[{"filter":"datum.k !== 'lab' && datum.k !== 'labb'"}],"mark":{"type":"rect","cornerRadius":1.5,"strokeWidth":{"expr":"datum.k === 'big' ? 3 : 1"}},"encoding":{"fill":{"field":"k","type":"nominal","legend":null},"stroke":{"field":"k","type":"nominal","legend":null}}},
      {"transform":[{"filter":"datum.k !== 'lab' && datum.k !== 'labb'"}],"mark":{"type":"text","baseline":"middle","fontSize":{"expr":"datum.k === 'big' ? 18 : datum.k === 'btns' ? 6.5 : 8"},"fontWeight":"bold","fill":{"expr":"datum.k === 'stop' ? '#ff4f4f' : '#1c1c1c'"},"dy":{"expr":"datum.k === 'big' ? 9.5 : 0"}},"encoding":{"text":{"field":"t"}}},
      {"transform":[{"filter":"datum.k === 'lab' || datum.k === 'labb'"}],"mark":{"type":"text","align":"left","dx":1,"baseline":"middle","lineBreak":"\n","fontSize":{"expr":"datum.k === 'labb' ? 8.5 : 6.5"},"dy":{"expr":"datum.k === 'lab' ? -4 : 0"},"fontWeight":"bold","fill":"#1c1c1c"},"encoding":{"x":{"field":"c","type":"nominal","bandPosition":0,"axis":null},"text":{"field":"t"}}}
     ]}
   ], "spacing": 4}
  ], "spacing": 3}
 ], "spacing": 6},
 {"hconcat": [
  {"width": 93, "height": 64, "view": {"fill": "#fbfbfb", "stroke": "#555555", "strokeWidth": 1},
   "resolve": {"scale": {"y": "independent"}},
   "layer": [
    {"data": {"name": "tl"},
     "encoding": {
      "x": {"field": "c", "type": "nominal", "axis": null, "scale": {"domain": ["all"], "paddingInner": 0, "paddingOuter": 0.03}},
      "y": {"field": "r", "type": "nominal", "axis": null, "scale": {"domain": ["t1","t2","t3","t4"], "paddingInner": 0.15, "paddingOuter": 0.1}}},
     "layer": [
      {"transform":[{"filter":"datum.k === 'red'"}],"mark":{"type":"rect","strokeWidth":1},"encoding":{"fill":{"field":"k","type":"nominal","legend":null},"stroke":{"field":"k","type":"nominal","legend":null}}},
      {"transform":[{"filter":"datum.k === 'lab'"}],"mark":{"type":"text","align":"left","dx":6,"baseline":"middle","fontSize":6.5,"fontWeight":"bold","fill":"#1c1c1c"},"encoding":{"x":{"field":"c","type":"nominal","bandPosition":0,"axis":null},"text":{"field":"t"}}}
     ]},
    {"data": {"name": "tblrows"}, "mark": {"type": "rule", "color": "#111111", "strokeWidth": 2.5},
     "encoding": {"y": {"field": "r", "type": "nominal", "bandPosition": 1, "axis": null, "scale": {"domain": ["u","l"], "paddingInner": 0, "paddingOuter": 0.05}}}}
   ]},
  {"width": 118, "height": 64, "view": {"fill": "#fbfbfb", "stroke": "#555555", "strokeWidth": 1},
   "resolve": {"scale": {"y": "independent"}},
   "layer": [
    {"data": {"name": "tv"},
     "encoding": {
      "x": {"field": "c", "type": "nominal", "axis": null, "scale": {"domain": ["all"], "paddingInner": 0, "paddingOuter": 0.07}},
      "y": {"field": "r", "type": "nominal", "axis": null, "scale": {"domain": ["u","l"], "paddingInner": 0.45, "paddingOuter": 0.25}}},
     "layer": [
      {"mark":{"type":"rect","strokeWidth":1},"encoding":{"fill":{"field":"k","type":"nominal","legend":null},"stroke":{"field":"k","type":"nominal","legend":null}}},
      {"mark":{"type":"text","align":"left","dx":8,"baseline":"middle","fontSize":11,"fontWeight":"bold","fill":"#303030"},"encoding":{"x":{"field":"c","type":"nominal","bandPosition":0,"axis":null},"text":{"field":"t"}}}
     ]},
    {"data": {"name": "tblrows"}, "mark": {"type": "rule", "color": "#111111", "strokeWidth": 2.5},
     "encoding": {"y": {"field": "r", "type": "nominal", "bandPosition": 1, "axis": null, "scale": {"domain": ["u","l"], "paddingInner": 0, "paddingOuter": 0.05}}}}
   ]},
  {"width": 446, "height": 64, "view": {"fill": "#fbfbfb", "stroke": "#555555", "strokeWidth": 1},
   "resolve": {"scale": {"y": "independent"}},
   "layer": [
    {"data": {"name": "tg"},
     "encoding": {
      "x": {"field": "c", "type": "nominal", "axis": null, "scale": {"domain": ["g00","g01","g02","g03","g04","g05","g06","g07","g08","g09"], "paddingInner": 0, "paddingOuter": 0}},
      "y": {"field": "r", "type": "nominal", "axis": null, "scale": {"domain": ["t1","t2","t3","t4"], "paddingInner": 0.15, "paddingOuter": 0.1}}},
     "layer": [
      {"transform":[{"filter":"datum.k === 'lab'"}],"mark":{"type":"text","align":"left","dx":4,"baseline":"middle","fontSize":6.5,"fontWeight":"bold","fill":"#1c1c1c"},"encoding":{"x":{"field":"c","type":"nominal","bandPosition":0,"axis":null},"text":{"field":"t"}}}
     ]},
    {"data": {"name": "tg"}, "mark": {"type": "rule", "color": "#555555", "strokeWidth": 1},
     "encoding": {"x": {"field": "c", "type": "nominal", "bandPosition": 0, "axis": null}}},
    {"data": {"name": "tblrows"}, "mark": {"type": "rule", "color": "#111111", "strokeWidth": 2.5},
     "encoding": {"y": {"field": "r", "type": "nominal", "bandPosition": 1, "axis": null, "scale": {"domain": ["u","l"], "paddingInner": 0, "paddingOuter": 0.05}}}}
   ]}
 ], "spacing": 0}
],
"spacing": 2
}
